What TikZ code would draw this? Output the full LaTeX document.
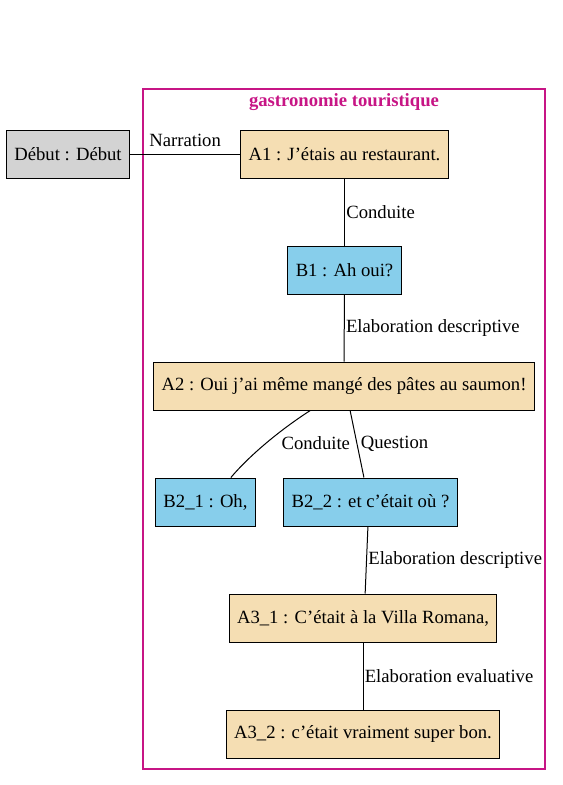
\documentclass[tikz,border=0pt]{standalone}
\usepackage{fontspec}
\setmainfont{Liberation Serif}
\usepackage{tikz}
\usetikzlibrary{positioning}
\definecolor{wheatc}{HTML}{F5DEB3}
\definecolor{skyc}{HTML}{87CEEB}
\definecolor{greyc}{HTML}{D3D3D3}
\definecolor{clusterc}{HTML}{C71585}

\begin{document}
\begin{tikzpicture}[x=0.75pt,y=-0.75pt,
    font=\fontsize{14}{16}\selectfont,
    box/.style={draw,line width=0.75pt,inner xsep=6pt,minimum height=36pt},
    abox/.style={box,fill=wheatc},
    bbox/.style={box,fill=skyc},
    rel/.style={inner sep=1pt},
    link/.style={line width=0.75pt}]
\useasboundingbox (0,0) rectangle (562,785);
% cluster
\draw[draw=clusterc,line width=0.9pt](143,89) rectangle (545,769);
\node[clusterc,font=\fontsize{14}{16}\selectfont\bfseries] (title) at (344,102){gastronomie touristique};
% nodes
\node[box,fill=greyc] (debut) at (68,154){Début : Début};
\node[abox] (A1) at (344.5,154){A1 : J’étais au restaurant.};
\node[bbox] (B1) at (344.5,270){B1 : Ah oui?};
\node[abox] (A2) at (344,386){A2 : Oui j’ai même mangé des pâtes au saumon!};
\node[bbox] (B21) at (205.5,502){B2\_1 : Oh,};
\node[bbox] (B22) at (370.5,502){B2\_2 : et c’était où ?};
\node[abox] (A31) at (363,618){A3\_1 : C’était à la Villa Romana,};
\node[abox] (A32) at (363,734){A3\_2 : c’était vraiment super bon.};
% relations
\draw[link](debut) -- node[rel,above=4pt]{Narration} (A1);
\draw[link](A1) -- node[rel,right]{Conduite} (B1);
\draw[link](B1) -- node[rel,right]{Elaboration descriptive} (A2);
\draw[link](A2.-144) .. controls (280,430) and (250,455) .. node[rel,right=10pt]{Conduite} (B21.44);
\draw[link](A2.-76) -- node[rel,right=1.5pt]{Question} (B22.105);
\draw[link](B22.-96) -- node[rel,right]{Elaboration descriptive} (A31.85);
\draw[link](A31) -- node[rel,right]{Elaboration evaluative} (A32);
\end{tikzpicture}
\end{document}
